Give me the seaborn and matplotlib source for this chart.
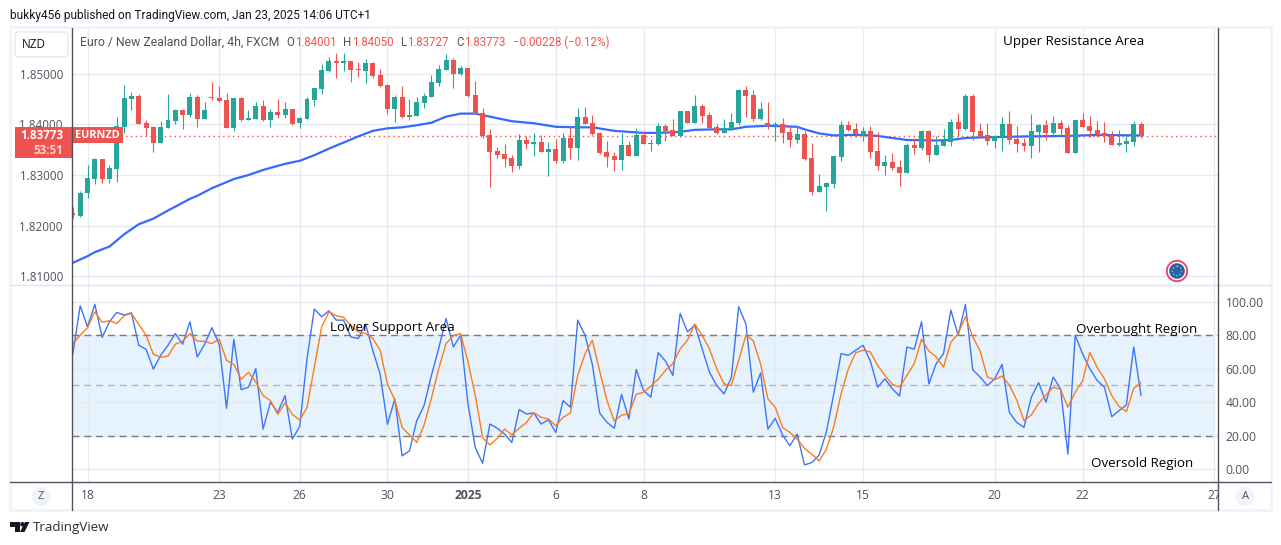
import matplotlib
matplotlib.use('Agg')
import matplotlib.pyplot as plt
from matplotlib.patches import Circle, FancyBboxPatch, Polygon, Rectangle
import pandas as pd
import seaborn as sns

opens = [1.8226, 1.8220, 1.8264, 1.8293, 1.8331, 1.8293, 1.8311, 1.8394, 1.8449, 1.8455,
         1.8402, 1.8394, 1.8364, 1.8392, 1.8406, 1.8428, 1.8418, 1.8453, 1.8410, 1.8453,
         1.8451, 1.8447, 1.8392, 1.8451, 1.8408, 1.8410, 1.8436, 1.8408, 1.8424, 1.8418,
         1.8430, 1.8402, 1.8410, 1.8447, 1.8469, 1.8505, 1.8524, 1.8520, 1.8524, 1.8509,
         1.8505, 1.8520, 1.8497, 1.8477, 1.8430, 1.8453, 1.8414, 1.8416, 1.8441, 1.8453,
         1.8481, 1.8507, 1.8526, 1.8500, 1.8510, 1.8457, 1.8422, 1.8379, 1.8347, 1.8341,
         1.8334, 1.8318, 1.8369, 1.8361, 1.8365, 1.8345, 1.8351, 1.8328, 1.8373, 1.8353,
         1.8414, 1.8402, 1.8383, 1.8345, 1.8337, 1.8330, 1.8359, 1.8337, 1.8379, 1.8363,
         1.8361, 1.8396, 1.8389, 1.8377, 1.8426, 1.8402, 1.8436, 1.8418, 1.8394, 1.8383,
         1.8390, 1.8402, 1.8467, 1.8457, 1.8410, 1.8402, 1.8396, 1.8400, 1.8385, 1.8369,
         1.8381, 1.8334, 1.8266, 1.8276, 1.8282, 1.8336, 1.8398, 1.8390, 1.8379, 1.8387,
         1.8347, 1.8318, 1.8326, 1.8316, 1.8304, 1.8359, 1.8353, 1.8387, 1.8339, 1.8357,
         1.8365, 1.8404, 1.8390, 1.8455, 1.8387, 1.8379, 1.8367, 1.8375, 1.8400, 1.8371,
         1.8363, 1.8357, 1.8385, 1.8398, 1.8383, 1.8402, 1.8392, 1.8343, 1.8408, 1.8396,
         1.8389, 1.8383, 1.8379, 1.8359, 1.8361, 1.8365, 1.84001]
highs = [1.8236, 1.8268, 1.8319, 1.8333, 1.8331, 1.8319, 1.8414, 1.8477, 1.8463, 1.8459,
         1.8408, 1.8396, 1.8406, 1.8459, 1.8430, 1.8430, 1.8461, 1.8457, 1.8443, 1.8483,
         1.8475, 1.8461, 1.8451, 1.8453, 1.8428, 1.8443, 1.8447, 1.8430, 1.8449, 1.8443,
         1.8430, 1.8414, 1.8453, 1.8471, 1.8518, 1.8532, 1.8540, 1.8540, 1.8524, 1.8522,
         1.8528, 1.8522, 1.8509, 1.8479, 1.8457, 1.8475, 1.8449, 1.8453, 1.8461, 1.8497,
         1.8516, 1.8538, 1.8530, 1.8514, 1.8510, 1.8485, 1.8432, 1.8390, 1.8355, 1.8361,
         1.8339, 1.8381, 1.8377, 1.8383, 1.8379, 1.8365, 1.8371, 1.8383, 1.8396, 1.8432,
         1.8434, 1.8418, 1.8385, 1.8367, 1.8345, 1.8383, 1.8367, 1.8392, 1.8387, 1.8371,
         1.8402, 1.8400, 1.8410, 1.8426, 1.8426, 1.8457, 1.8440, 1.8424, 1.8400, 1.8410,
         1.8422, 1.8469, 1.8475, 1.8467, 1.8444, 1.8444, 1.8404, 1.8412, 1.8396, 1.8396,
         1.8387, 1.8363, 1.8302, 1.8286, 1.8337, 1.8406, 1.8406, 1.8402, 1.8394, 1.8396,
         1.8385, 1.8339, 1.8343, 1.8330, 1.8363, 1.8373, 1.8389, 1.8389, 1.8377, 1.8390,
         1.8410, 1.8422, 1.8459, 1.8459, 1.8402, 1.8402, 1.8379, 1.8414, 1.8426, 1.8396,
         1.8373, 1.8420, 1.8400, 1.8408, 1.8416, 1.8408, 1.8398, 1.8408, 1.8422, 1.8416,
         1.8406, 1.8404, 1.8387, 1.8389, 1.8377, 1.8406, 1.84050]
lows = [1.8216, 1.8217, 1.8254, 1.8282, 1.8284, 1.8284, 1.8286, 1.8383, 1.8428, 1.8400,
        1.8377, 1.8345, 1.8364, 1.8392, 1.8400, 1.8390, 1.8414, 1.8394, 1.8410, 1.8447,
        1.8443, 1.8392, 1.8386, 1.8406, 1.8408, 1.8410, 1.8406, 1.8394, 1.8412, 1.8412,
        1.8398, 1.8392, 1.8410, 1.8436, 1.8459, 1.8503, 1.8491, 1.8505, 1.8483, 1.8493,
        1.8481, 1.8491, 1.8473, 1.8420, 1.8404, 1.8412, 1.8408, 1.8416, 1.8432, 1.8453,
        1.8475, 1.8507, 1.8471, 1.8498, 1.8453, 1.8420, 1.8373, 1.8276, 1.8334, 1.8316,
        1.8306, 1.8312, 1.8351, 1.8337, 1.8345, 1.8298, 1.8324, 1.8324, 1.8332, 1.8330,
        1.8400, 1.8379, 1.8341, 1.8316, 1.8308, 1.8310, 1.8337, 1.8337, 1.8361, 1.8347,
        1.8359, 1.8367, 1.8377, 1.8375, 1.8402, 1.8402, 1.8402, 1.8390, 1.8381, 1.8383,
        1.8389, 1.8398, 1.8414, 1.8406, 1.8408, 1.8390, 1.8367, 1.8363, 1.8355, 1.8363,
        1.8330, 1.8261, 1.8266, 1.8230, 1.8274, 1.8328, 1.8387, 1.8375, 1.8367, 1.8334,
        1.8310, 1.8300, 1.8310, 1.8278, 1.8304, 1.8341, 1.8349, 1.8326, 1.8339, 1.8357,
        1.8357, 1.8377, 1.8389, 1.8369, 1.8373, 1.8359, 1.8353, 1.8347, 1.8361, 1.8345,
        1.8347, 1.8334, 1.8345, 1.8369, 1.8377, 1.8377, 1.8343, 1.8343, 1.8394, 1.8375,
        1.8375, 1.8365, 1.8359, 1.8357, 1.8345, 1.8357, 1.83727]
closes = [1.8221, 1.8265, 1.8295, 1.8331, 1.8293, 1.8313, 1.8396, 1.8451, 1.8455, 1.8400,
          1.8392, 1.8364, 1.8394, 1.8408, 1.8428, 1.8418, 1.8453, 1.8410, 1.8428, 1.8451,
          1.8445, 1.8392, 1.8451, 1.8408, 1.8412, 1.8436, 1.8408, 1.8424, 1.8418, 1.8430,
          1.8401, 1.8412, 1.8449, 1.8471, 1.8507, 1.8524, 1.8520, 1.8524, 1.8507, 1.8507,
          1.8520, 1.8495, 1.8475, 1.8430, 1.8453, 1.8414, 1.8418, 1.8443, 1.8455, 1.8483,
          1.8508, 1.8526, 1.8500, 1.8510, 1.8455, 1.8420, 1.8377, 1.8345, 1.8339, 1.8332,
          1.8318, 1.8369, 1.8361, 1.8365, 1.8345, 1.8351, 1.8328, 1.8373, 1.8353, 1.8414,
          1.8400, 1.8381, 1.8343, 1.8336, 1.8330, 1.8359, 1.8337, 1.8379, 1.8361, 1.8361,
          1.8396, 1.8387, 1.8377, 1.8426, 1.8402, 1.8436, 1.8416, 1.8392, 1.8383, 1.8392,
          1.8404, 1.8467, 1.8455, 1.8410, 1.8430, 1.8396, 1.8400, 1.8383, 1.8369, 1.8381,
          1.8332, 1.8266, 1.8278, 1.8284, 1.8337, 1.8398, 1.8389, 1.8381, 1.8387, 1.8345,
          1.8318, 1.8326, 1.8314, 1.8304, 1.8359, 1.8353, 1.8387, 1.8339, 1.8359, 1.8367,
          1.8404, 1.8390, 1.8455, 1.8385, 1.8377, 1.8367, 1.8377, 1.8400, 1.8369, 1.8361,
          1.8357, 1.8387, 1.8398, 1.8383, 1.8402, 1.8390, 1.8343, 1.8408, 1.8394, 1.8387,
          1.8379, 1.8377, 1.8359, 1.8363, 1.8367, 1.8400, 1.83773]

ma_bars = [0, 2, 3, 5, 7, 9, 11, 13, 16, 17, 19, 20, 22, 24, 26, 29, 31, 33, 35, 37, 39, 41, 43, 45, 47, 49,
           51, 53, 55, 57, 60, 63, 66, 69, 71, 74, 76, 78, 80, 83, 85, 88, 90, 92, 95, 99, 100, 102, 104, 106,
           108, 110, 112, 114, 118, 120, 122, 124, 130, 136, 140, 146]
ma_values = [1.8127, 1.8140, 1.8148, 1.8159, 1.8183, 1.8203, 1.8214, 1.8230, 1.8253, 1.8259, 1.8274, 1.8280,
             1.8292, 1.8300, 1.8310, 1.8322, 1.8328, 1.8339, 1.8352, 1.8364, 1.8376, 1.8387, 1.8392, 1.8394,
             1.8398, 1.8403, 1.8415, 1.8421, 1.8421, 1.8415, 1.8406, 1.8402, 1.8395, 1.8394, 1.8394, 1.8387,
             1.8385, 1.8383, 1.8383, 1.8385, 1.8389, 1.8390, 1.8390, 1.8395, 1.8397, 1.8395, 1.8390, 1.8382,
             1.8378, 1.8379, 1.8379, 1.8377, 1.8373, 1.8369, 1.8368, 1.8369, 1.8373, 1.8374, 1.8376, 1.8377,
             1.8379, 1.8378]

stoch_k = [69, 97.6, 85, 98.4, 78.7, 88, 93.6, 92, 93.4, 74, 71.6, 59.8, 68, 74, 81, 74.6, 88, 67, 74.6, 84.5,
           74.6, 36.4, 77.5, 47.5, 49, 60, 24, 40, 34, 44, 18, 25.6, 66, 95.6, 91, 94.6, 89, 89, 79, 78,
           86.7, 70.8, 56.7, 26.8, 42, 8, 11, 29, 38, 56, 72, 90, 73, 80, 39, 13, 3.6, 27, 24.5, 21,
           16, 35.6, 33, 33.6, 27, 29.6, 22, 41, 37, 89, 80, 62.6, 33.6, 28, 24.5, 44.7, 30, 59.6, 47, 43,
           69.6, 64.6, 56, 93, 82, 86, 72, 58, 50, 45, 54.7, 97, 86.5, 46, 57.5, 24, 30.4, 20.5, 14, 21,
           2.6, 4, 8.5, 22.5, 45, 69, 68, 71, 74, 64.6, 49, 54, 48, 43.7, 73, 71.6, 88, 51, 63, 69,
           95, 80, 98.4, 59.4, 55, 50, 54, 62.6, 34, 28, 25, 43, 51.7, 40, 55, 48, 9, 80, 69, 60,
           53, 49, 31.4, 35, 38.4, 73, 44]
stoch_d = [75, 80, 84.5, 94, 87.7, 88.7, 87, 91.6, 93, 86.5, 80, 68.6, 66.8, 67.6, 74.6, 76.5, 81, 76.5, 76.3, 75,
           77.7, 65, 62.6, 53.7, 57.9, 52, 44, 41, 32.8, 39.6, 32.8, 29.4, 36.8, 61, 85, 94, 91.6, 90.7, 85.7, 82,
           81, 78, 71, 50.7, 41.4, 25, 20.5, 16, 26.4, 42.3, 60, 75, 79.7, 81, 64, 44, 19, 14.5, 18.5, 24,
           20.5, 24.5, 28, 33.8, 31, 30, 26, 31, 33.6, 56, 68.8, 77, 58.6, 41, 28.8, 32.4, 33, 44.7, 46, 49.7,
           53.7, 59, 63, 71.8, 77, 86.7, 80, 72, 60, 51, 50, 65, 80, 76.7, 62.8, 42, 37, 25, 22, 18,
           12.5, 9, 5, 12, 25.4, 45, 60, 69.6, 71, 70, 62, 56, 50.7, 49, 56, 63, 77.5, 70.6, 67, 61,
           75.7, 81, 91, 79, 70.6, 55, 53.5, 55.7, 50.3, 41.4, 29, 32.4, 39.4, 44.3, 49, 47.7, 37, 46, 52.7, 69.8,
           60.8, 54, 44, 37.4, 34.4, 48.3, 51.7]

price_ticks = [1.81, 1.82, 1.83, 1.84, 1.85]
osc_ticks = [0, 20, 40, 60, 80, 100]
date_bars = [2, 20, 31, 43, 54, 66, 78, 96, 108, 126, 138, 156]
date_labels = ['18', '23', '26', '30', '2025', '6', '8', '13', '15', '20', '22', '27']

GREEN = '#26a69a'
RED = '#ef5350'
GRID = '#e4ebf2'
TXT = '#50535e'

sns.set_theme(style='white')
plt.rcParams['font.family'] = ['Open Sans', 'DejaVu Sans']

W, H = 1281, 545
fig = plt.figure(figsize=(W / 100, H / 100), dpi=100)


def pane(left, top, right, bottom):
    return fig.add_axes([left / W, 1 - bottom / H, (right - left) / W, (bottom - top) / H])


ax = pane(71.5, 28, 1217.5, 284)
ax2 = pane(71.5, 285, 1217.5, 482)

bars = list(range(len(opens)))
candles = pd.DataFrame({'bar': bars, 'open': opens, 'high': highs, 'low': lows, 'close': closes})
candles['color'] = [GREEN if c >= o else RED for o, c in zip(opens, closes)]

ax.vlines(candles['bar'], candles['low'], candles['high'], colors=candles['color'], lw=0.8, zorder=4)
ax.bar(candles['bar'], (candles['close'] - candles['open']).abs().clip(lower=0.00008),
       bottom=candles[['open', 'close']].min(axis=1), width=0.68, color=candles['color'], linewidth=0, zorder=5)
ax.axhline(closes[-1], color=RED, lw=1, ls=(0, (1, 2.5)), zorder=2)
sns.lineplot(x=ma_bars, y=ma_values, ax=ax, color='#2962ff', lw=1.6, alpha=0.95, zorder=3, errorbar=None)

ax.set_xlim(-0.19, 156.45)
ax.set_ylim(1.80852, 1.85897)
ax.set_yticks(price_ticks)
ax.set_yticklabels([f'{v:.5f}' for v in price_ticks])
ax.set_xticks(date_bars)
ax.tick_params(axis='x', length=0, labelbottom=False)
ax.tick_params(axis='y', length=0, pad=6.2, labelsize=8.4, labelcolor=TXT)
ax.grid(True, color=GRID, lw=1)
ax.set_axisbelow(True)
ax.set_xlabel('')
ax.set_ylabel('')

ax2.axhspan(20, 80, xmax=(156 + 0.19) / 156.64, color='#2196f3', alpha=0.11, lw=0, zorder=0)
for level, col in [(80, '#787b86'), (50, '#b2b5be'), (20, '#787b86')]:
    ax2.axhline(level, color=col, lw=1, ls=(0, (5, 3.5)), zorder=2)
sns.lineplot(x=bars, y=stoch_k, ax=ax2, color='#3f74f8', lw=1.0, zorder=3, errorbar=None)
sns.lineplot(x=bars, y=stoch_d, ax=ax2, color='#ff7a1a', lw=1.0, zorder=4, errorbar=None)

ax2.set_xlim(-0.19, 156.45)
ax2.set_ylim(-7.58, 109.96)
ax2.yaxis.tick_right()
ax2.set_yticks(osc_ticks)
ax2.set_yticklabels([f'{v:.2f}' for v in osc_ticks])
ax2.set_xticks(date_bars)
ax2.set_xticklabels(date_labels)
ax2.tick_params(axis='x', length=0, pad=5, labelsize=8.7, labelcolor=TXT)
ax2.tick_params(axis='y', length=0, pad=6, labelsize=8.7, labelcolor=TXT)
ax2.grid(True, color=GRID, lw=1)
ax2.set_axisbelow(True)
ax2.set_xlabel('')
ax2.set_ylabel('')
ax2.get_xticklabels()[4].set_fontweight('bold')

for a in (ax, ax2):
    for s in a.spines.values():
        s.set_visible(False)

# overlay in pixel coordinates for the TradingView frame, labels and notes
ov = fig.add_axes([0, 0, 1, 1], zorder=10)
ov.set_xlim(0, W)
ov.set_ylim(H, 0)
ov.axis('off')

ov.add_patch(Rectangle((1218, 483), 52, 26, color='white', lw=0))
ov.add_patch(Rectangle((10, 27), 1260.5, 483, fill=False, ec='#f0f3fa', lw=2))
ov.plot([10, 1271], [284.5, 284.5], color='#e0e3eb', lw=1)
ov.plot([10, 1271], [482, 482], color='#50535e', lw=1)
ov.plot([71.5, 71.5], [28, 510], color='#50535e', lw=1)
ov.plot([1217.5, 1217.5], [28, 510], color='#50535e', lw=1)


def note(x, y, s, color='black', size=9.6, **kw):
    ov.text(x, y, s, color=color, fontsize=size, va='center', **kw)


note(10, 15.5, 'bukky456 published on TradingView.com, Jan 23, 2025 14:06 UTC+1', color='#131722', size=8.57,
     family='Roboto')
note(79.5, 42, 'Euro / New Zealand Dollar, 4h, FXCM', color=TXT, size=8.85, family='Roboto')
for x, s, col in [(286, 'O', TXT), (295, '1.84001', RED), (343, 'H', TXT), (352, '1.84050', RED),
                  (401, 'L', TXT), (407.5, '1.83727', RED), (456, 'C', TXT), (464.5, '1.83773', RED),
                  (513, '\u22120.00228 (\u22120.12%)', RED)]:
    note(x, 42, s, color=col, size=8.3, family='Roboto')

note(1003, 41.5, 'Upper Resistance Area')
note(330, 327.5, 'Lower Support Area')
note(1076, 329.5, 'Overbought Region')
note(1091, 463.5, 'Oversold Region')

ov.add_patch(FancyBboxPatch((15, 32), 53, 25, boxstyle='round,pad=0,rounding_size=4', fc='white', ec='#e6e8ee', lw=1))
note(34, 44.5, 'NZD', color='#131722', size=8.4, ha='center')

ov.add_patch(Rectangle((15, 127), 57, 31, color=RED, lw=0))
ov.add_patch(Rectangle((72, 127), 51, 16, color=RED, lw=0))
note(63, 135.5, '1.83773', color='white', size=8.4, ha='right', fontweight='bold')
note(63, 150, '53:51', color='#fbd5d4', size=8.4, ha='right', fontweight='bold')
note(97.5, 135.5, 'EURNZD', color='white', size=7.8, ha='center', fontweight='bold')

# currency badge
ov.add_patch(Circle((1177, 271), 10.2, fc='white', ec='#f0495a', lw=1.4))
ov.add_patch(Circle((1177, 271), 7.8, fc='#1f62b8', lw=0))
ov.add_patch(Circle((1177, 271), 4.6, fill=False, ec='#c9b24a', lw=1.0, ls=(0, (1, 1.5))))

for x, s in [(41, 'Z'), (1245, 'A')]:
    ov.add_patch(Circle((x, 496.5), 9.5, fc='#f0f3fa', lw=0))
    note(x, 496.5, s, color=TXT, size=8, ha='center')

# logo and footer
ov.add_patch(Polygon([(10, 522), (19.5, 522), (19.5, 532), (15, 532), (15, 526.5), (10, 526.5)], color='#131722', lw=0))
ov.add_patch(Circle((22.5, 524.3), 2.3, color='#131722', lw=0))
ov.add_patch(Polygon([(25, 522), (29.5, 522), (24.5, 532), (20, 532)], color='#131722', lw=0))
note(33, 527.5, 'TradingView', color='#2a2e39', size=9.6)

fig.savefig('out.png', dpi=100)
